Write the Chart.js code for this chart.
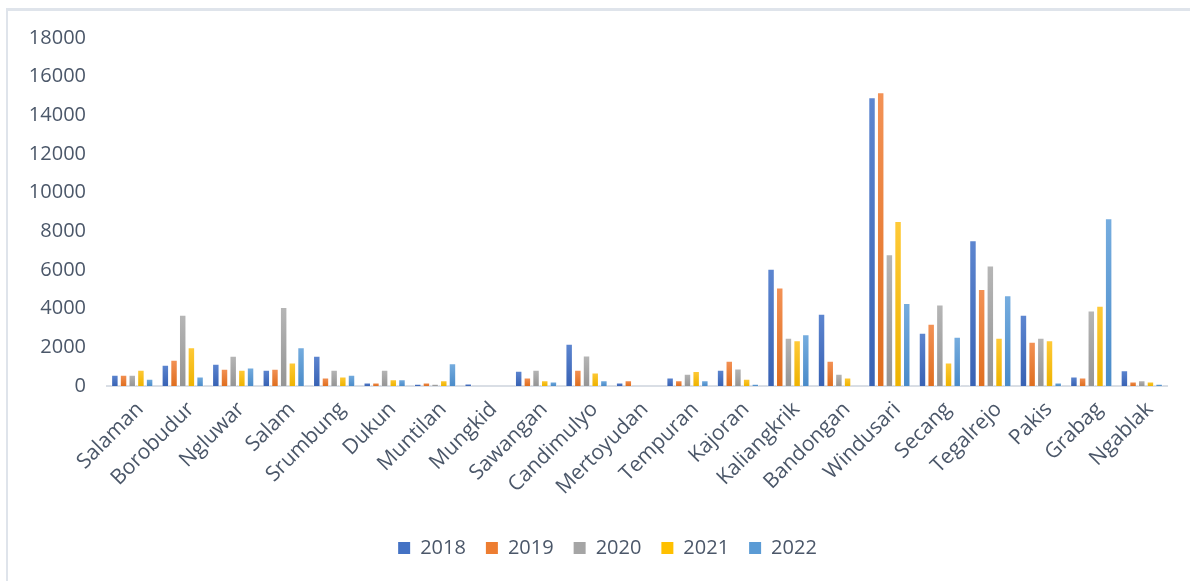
<!DOCTYPE html>
<html>
<head>
<meta charset="utf-8">
<script src="https://cdn.jsdelivr.net/npm/chart.js@4/dist/chart.umd.min.js"></script>
<style>
  html, body { margin: 0; padding: 0; background: #ffffff; }
  body { width: 1190px; height: 581px; position: relative; overflow: hidden; }
  #frame {
    position: absolute; left: 6px; top: 8px; right: 0; bottom: 0;
    border-top: 3px solid #dfe4eb; border-left: 2px solid #dfe4eb;
  }
  #chart { position: absolute; left: 0; top: 0; }
</style>
</head>
<body>
<div id="frame"></div>
<canvas id="chart" width="1190" height="581"></canvas>
<script>
// Kecamatan (districts)
const categories = ['Salaman', 'Borobudur', 'Ngluwar', 'Salam', 'Srumbung', 'Dukun', 'Muntilan',
  'Mungkid', 'Sawangan', 'Candimulyo', 'Mertoyudan', 'Tempuran', 'Kajoran', 'Kaliangkrik',
  'Bandongan', 'Windusari', 'Secang', 'Tegalrejo', 'Pakis', 'Grabag', 'Ngablak'];

const years = ['2018', '2019', '2020', '2021', '2022'];

const v2018 = [580, 1100, 1150, 840, 1570, 180, 110, 130, 790, 2190, 180, 440, 840, 6070, 3740, 14930, 2760, 7540, 3690, 490, 820];
const v2019 = [580, 1360, 890, 890, 440, 180, 180, 0, 440, 840, 300, 300, 1300, 5090, 1300, 15190, 3220, 5020, 2290, 440, 230];
const v2020 = [580, 3690, 1570, 4080, 840, 840, 110, 0, 840, 1580, 0, 630, 910, 2500, 630, 6810, 4220, 6230, 2500, 3900, 300];
const v2021 = [840, 2010, 840, 1220, 490, 350, 300, 0, 300, 700, 0, 770, 370, 2360, 440, 8540, 1220, 2500, 2360, 4150, 230];
const v2022 = [370, 490, 960, 2010, 580, 350, 1180, 0, 230, 300, 0, 300, 110, 2680, 0, 4290, 2550, 4690, 180, 8680, 110];

const yMax = 18000;
const yStep = 2000;

const seriesValues = [v2018, v2019, v2020, v2021, v2022];
// base, lighter top, darker bottom
const palette = [
  ['#4472C4', '#5d86d0', '#3862b4'],
  ['#ED7D31', '#f39256', '#df6e1f'],
  ['#A5A5A5', '#b6b6b6', '#959595'],
  ['#FFC000', '#ffca38', '#eeb300'],
  ['#5B9BD5', '#76addf', '#4a8bc9']
];

const textColor = '#4b5769';
const fontFamily = '"Open Sans", "Liberation Sans", sans-serif';

function barFill(i) {
  return (ctx) => {
    const [base, light, dark] = palette[i];
    if (ctx.type !== 'data') return base;
    const y = ctx.chart.scales.y;
    if (!y) return base;
    const top = y.getPixelForValue(ctx.raw);
    const bottom = y.getPixelForValue(0);
    if (!isFinite(top) || !isFinite(bottom) || Math.abs(bottom - top) < 1) return base;
    const g = ctx.chart.ctx.createLinearGradient(0, top, 0, bottom);
    g.addColorStop(0, light);
    g.addColorStop(1, dark);
    return g;
  };
}

const datasets = years.map((yr, i) => ({
  label: yr,
  data: seriesValues[i],
  backgroundColor: barFill(i),
  borderColor: 'rgba(255,255,255,0.55)',
  borderWidth: (ctx) => (ctx.raw ? 1 : 0),
  categoryPercentage: 0.86,
  barPercentage: 0.86
}));

// nudges the legend row to the right of the canvas centre
const legendShift = {
  id: 'legendShift',
  afterLayout(chart) {
    const lg = chart.legend;
    if (lg) { lg.left += 24; lg.right += 24; }
  }
};

new Chart(document.getElementById('chart'), {
  type: 'bar',
  data: { labels: categories, datasets },
  plugins: [legendShift],
  options: {
    responsive: false,
    animation: false,
    devicePixelRatio: 1,
    layout: { padding: { top: 38, right: 23, left: 0, bottom: 13 } },
    plugins: {
      tooltip: { enabled: false },
      legend: {
        position: 'bottom',
        labels: {
          color: textColor,
          font: { family: fontFamily, size: 20 },
          boxWidth: 12,
          boxHeight: 12,
          padding: 20,
          generateLabels: (chart) => chart.data.datasets.map((ds, i) => ({
            text: ds.label,
            fillStyle: palette[i][0],
            strokeStyle: palette[i][0],
            lineWidth: 0,
            fontColor: textColor,
            datasetIndex: i,
            hidden: false
          }))
        }
      }
    },
    scales: {
      x: {
        grid: { display: false, drawTicks: false },
        border: { display: true, color: '#d9dee5', width: 2 },
        ticks: {
          color: textColor,
          font: { family: fontFamily, size: 21 },
          minRotation: 45,
          maxRotation: 45,
          autoSkip: false,
          padding: 11,
          labelOffset: 8
        },
        afterFit: (s) => { s.height = 132; }
      },
      y: {
        min: 0,
        max: yMax,
        grid: { display: false, drawTicks: false },
        border: { display: false },
        ticks: {
          stepSize: yStep,
          color: textColor,
          font: { family: fontFamily, size: 20 },
          padding: 21,
          callback: (v) => String(v)
        },
        afterFit: (s) => { s.width = 107; }
      }
    }
  }
});
</script>
</body>
</html>
